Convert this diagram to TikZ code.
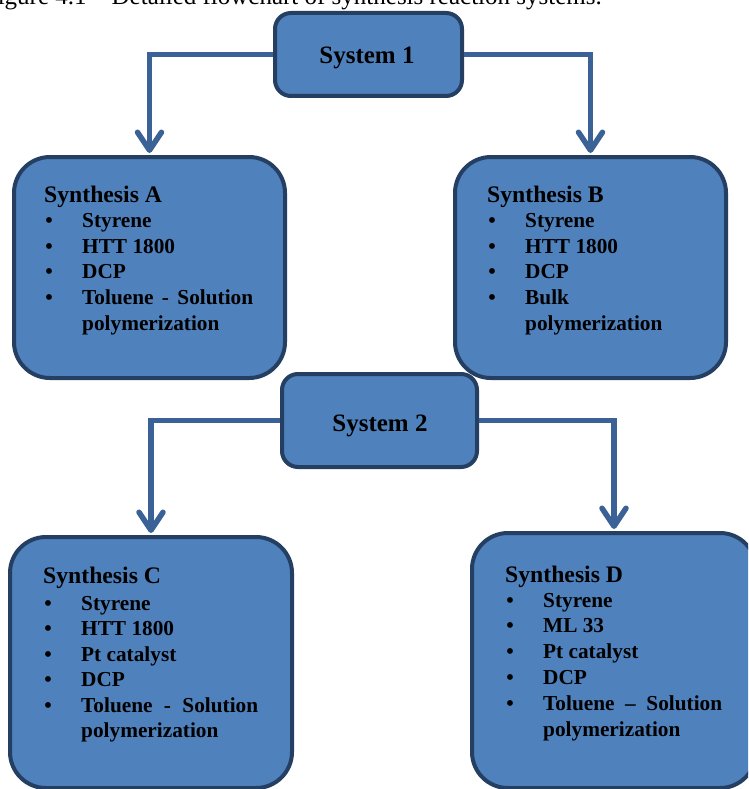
\documentclass[tikz,border=0pt]{standalone}
\usepackage{fontspec}
\setmainfont{Liberation Serif}
\usetikzlibrary{arrows.meta}
\definecolor{boxfill}{HTML}{4F81BD}
\definecolor{boxline}{HTML}{253F63}
\definecolor{connline}{HTML}{3A6296}
\newcommand\bitem[5]{%
  \node[bulletmark, anchor=base] (#1b) at (#2,#4) {\textbullet};
  \node[itemtext, anchor=base west] (#1) at (#3,#4) {#5};}
\begin{document}
\begin{tikzpicture}[x=1pt,y=-1pt,
  box/.style={draw=boxline, line width=4pt, fill=boxfill, rounded corners=36pt, inner sep=0pt},
  sysbox/.style={draw=boxline, line width=4pt, fill=boxfill, rounded corners=16pt, inner sep=0pt},
  conn/.style={draw=connline, line width=5.5pt, -{Straight Barb[length=18pt,width=24pt,round]}, shorten >=2pt},
  head/.style={font=\fontsize{23.7}{26}\selectfont\bfseries, inner sep=0pt},
  itemtext/.style={font=\fontsize{21.3}{25}\selectfont\bfseries, inner sep=0pt},
  bulletmark/.style={font=\fontsize{21.3}{25}\selectfont\bfseries, inner sep=0pt},
  systext/.style={font=\fontsize{25}{28}\selectfont\bfseries, inner sep=0pt},
  captext/.style={font=\fontsize{25}{28}\selectfont, inner sep=0pt}]
\useasboundingbox (0,0) rectangle (748,789);
\clip (0,0) rectangle (748,789);
\fill[white] (0,0) rectangle (748,789);
% caption (cut off at the top)
\node[captext, anchor=base east] (cap) at (602,5) {Figure 4.1 – Detailed flowchart of synthesis reaction systems.};
% boxes
\node[box, minimum width=271pt, minimum height=221pt] (A) at (149.5,267.5) {};
\node[box, minimum width=271pt, minimum height=221pt] (B) at (590.5,267.5) {};
\node[box, minimum width=282pt, minimum height=251pt] (C) at (151,662.5) {};
\node[box, minimum width=284pt, minimum height=255pt] (D) at (614,660.5) {};
\node[sysbox, minimum width=187pt, minimum height=83pt] (S1) at (368.5,54.5) {};
\node[sysbox, minimum width=195pt, minimum height=93pt] (S2) at (379.5,420.5) {};
% connectors
\draw[conn] (S1.west) -| (A.north);
\draw[conn] (S1.east) -| (B.north);
\draw[conn] (S2.west) -| (C.north);
\draw[conn] (S2.east) -| (D.north);
% system labels
\node[systext, anchor=base] (S1t) at (367,64) {System 1};
\node[systext, anchor=base] (S2t) at (380,431) {System 2};
% Synthesis A
\node[head, anchor=base west] (Ah) at (44,202) {Synthesis A};
\bitem{A1}{49}{82}{227.5}{Styrene}
\bitem{A2}{49}{82}{253.2}{HTT 1800}
\bitem{A3}{49}{82}{278.9}{DCP}
\bitem{A4}{49}{82}{304.6}{\makebox[171pt][s]{Toluene - Solution}}
\node[itemtext, anchor=base west] (A5) at (82,330.3) {polymerization};
% Synthesis B
\node[head, anchor=base west] (Bh) at (487,202) {Synthesis B};
\bitem{B1}{492}{525}{227.5}{Styrene}
\bitem{B2}{492}{525}{253.2}{HTT 1800}
\bitem{B3}{492}{525}{278.9}{DCP}
\bitem{B4}{492}{525}{304.6}{Bulk}
\node[itemtext, anchor=base west] (B5) at (525,330.3) {polymerization};
% Synthesis C
\node[head, anchor=base west] (Ch) at (43,583) {Synthesis C};
\bitem{C1}{48}{81}{610}{Styrene}
\bitem{C2}{48}{81}{635.5}{HTT 1800}
\bitem{C3}{48}{81}{661}{Pt catalyst}
\bitem{C4}{48}{81}{686.5}{DCP}
\bitem{C5}{48}{81}{712}{\makebox[177pt][s]{Toluene - Solution}}
\node[itemtext, anchor=base west] (C6) at (81,737.5) {polymerization};
% Synthesis D
\node[head, anchor=base west] (Dh) at (505,582) {Synthesis D};
\bitem{D1}{510}{543}{607}{Styrene}
\bitem{D2}{510}{543}{632.8}{ML 33}
\bitem{D3}{510}{543}{658.6}{Pt catalyst}
\bitem{D4}{510}{543}{684.4}{DCP}
\bitem{D5}{510}{543}{710.2}{\makebox[179pt][s]{Toluene – Solution}}
\node[itemtext, anchor=base west] (D6) at (543,736) {polymerization};
\end{tikzpicture}
\end{document}
